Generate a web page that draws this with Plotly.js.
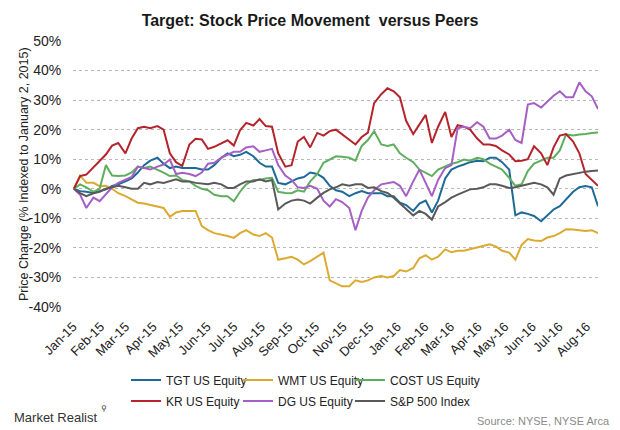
<!DOCTYPE html>
<html>
<head>
<meta charset="utf-8">
<script src="https://cdn.plot.ly/plotly-3.0.1.min.js"></script>
<style>html,body{margin:0;padding:0;background:#fff;}#chart{width:620px;height:430px;}</style>
</head>
<body>
<div id="chart"></div>
<script>
// Sample dates (roughly weekly), Jan 2, 2015 to mid-Aug 2016
const dates = [
 "2015-01-02","2015-01-09","2015-01-16","2015-01-24","2015-01-31","2015-02-07","2015-02-14","2015-02-21","2015-03-01","2015-03-08",
 "2015-03-15","2015-03-22","2015-03-29","2015-04-06","2015-04-13","2015-04-20","2015-04-27","2015-05-04","2015-05-12","2015-05-19",
 "2015-05-26","2015-06-02","2015-06-09","2015-06-17","2015-06-24","2015-07-01","2015-07-08","2015-07-15","2015-07-23","2015-07-30",
 "2015-08-06","2015-08-13","2015-08-20","2015-08-28","2015-09-04","2015-09-11","2015-09-18","2015-09-25","2015-10-03","2015-10-10",
 "2015-10-17","2015-10-24","2015-10-31","2015-11-08","2015-11-15","2015-11-22","2015-11-29","2015-12-06","2015-12-14","2015-12-21",
 "2015-12-28","2016-01-04","2016-01-11","2016-01-19","2016-01-26","2016-02-02","2016-02-09","2016-02-16","2016-02-24","2016-03-02",
 "2016-03-09","2016-03-16","2016-03-23","2016-03-31","2016-04-07","2016-04-14","2016-04-21","2016-04-28","2016-05-06","2016-05-13",
 "2016-05-20","2016-05-27","2016-06-03","2016-06-11","2016-06-18","2016-06-25","2016-07-02","2016-07-09","2016-07-17","2016-07-24",
 "2016-07-31","2016-08-07","2016-08-14"
];

const seriesNames = ["TGT US Equity","WMT US Equity","COST US Equity","KR US Equity","DG US Equity","S&P 500 Index"];

const tgt = [0,-0.8,-1,-1.4,-0.8,-0.2,1,1.5,2.5,3.5, 5.5,8,9.5,10.5,8.5,7,7.5,7,7,7,
 6.5,6.5,8,10.5,12,11,11.5,12.5,11,8.8, 7.5,7.5,2,1.5,2.5,3.5,4,5.5,5,3.7,
 1,-0.5,-1,-2.5,-1.5,-0.8,-1.5,-1.4,-1.5,-2.5, -2.5,-4.7,-5.5,-7.5,-5,-4,-8,-4,3.5,6.5,
 7.5,8.2,9,9.5,9.3,10.5,10.5,9,6.5,-9, -8,-8.5,-9.2,-11,-9,-7,-5.9,-3.5,-1,0.5,
 0.9,0.5,-5.9];

const wmt = [0,4.5,2,2,0.9,1,0,-1.5,-2.5,-3.5, -4.7,-5,-5.5,-6,-6.5,-9.5,-8,-7.5,-7.5,-7.5,
 -12.6,-14,-15,-15.4,-16,-16.6,-15,-14,-15.5,-16, -15,-16.5,-24,-23.5,-23,-24,-25.6,-24.5,-23,-21.6,
 -31,-32,-33,-33,-31,-31.5,-31,-30,-29.5,-30, -29.5,-27.5,-28,-26.8,-23.5,-22.5,-24,-23,-20.5,-21.5,
 -21,-21,-20.5,-19.9,-19.5,-18.8,-19.5,-21,-21.6,-24, -19,-17,-17.5,-17.7,-16.5,-16,-15,-13.7,-13.8,-14,
 -14.3,-14,-15];

const cost = [0,1.5,0.5,-1,0,8,4.5,4.3,4.5,5.5, 7.5,7,7.5,6.5,5.5,4.3,4.5,3,2.5,1,
 0,-0.5,-2,-2.5,-2.5,-4.2,-1,1.5,3,3, 3.5,3.7,-1,-1.4,-1.5,-0.5,-1,2.5,5,8.8,
 10,11,10.8,10.5,9.5,14.5,16.5,19.5,15,14.5, 15,12,10.5,9,6.5,5.5,4.3,6.5,7.5,8.5,
 9,9.9,9.5,10.5,10,8.5,7.5,6.5,3.7,1, 1.5,6,8.5,9.5,10.5,10.5,13,18.4,18,18.4,
 18.5,18.9,19];

const kr = [0,4.3,4.8,7.4,9.3,11.6,14.6,15.5,12,17, 20.5,21,20.5,21.2,20,12,9,7.7,15,16.9,
 16.7,13.5,14.2,15.5,16.4,14.6,19.8,22.3,21.4,23.6, 21.2,21,12,7.5,8,16,17.5,14,18.9,18,
 19.5,20,18.5,16.5,15,17.5,19,29,32,34, 33,31,23,18.5,22,25,15.5,21,26,17.5,
 21.5,21,20,17,15,15,14.5,13,11.6,9.3, 9.5,10,14.4,12,8,14,18,18.5,16,12,
 5,3,1];

const dg = [0,-2,-6.5,-3,-4.2,-2,0.5,2,3,4, 7.5,7,6.5,7.5,8.2,9.9,5,5.4,5,4.3,
 5.5,8.5,8.8,10.5,11.6,12.5,12.5,14,14.4,12.5, 13,13.5,8,4.5,3,0.5,0.3,1,0,-4,
 -6,-3.5,-4.5,-6.5,-14,-7.5,-3,-0.5,1.5,2, 2.3,1,-2.5,2.5,6.5,2,-2.5,3,7,8,
 20.5,21,20.5,22.5,21,17,17,18,20,16.5, 15.5,28.5,29,27.5,29.6,31.5,33,31,31,36,
 33,31.3,27];

const spx = [0,-1.5,-2.5,-1.5,-1,0,0.5,1,0.5,0, 0,2,1.5,2.3,2,2.5,3.2,2.5,2.5,2,
 1.8,1.5,2,1.5,0.3,0.3,1.5,2.5,2.5,3.2, 2.5,3,-7,-5,-4,-3.6,-4,-5,-3,-1.4,
 -0.2,0.5,1.5,1,1.5,1.5,0.3,0.5,-0.8,-1.4, -3,-5,-7,-9,-7.5,-8.5,-10.4,-6,-4.5,-3,
 -2,-1,-0.2,0,0.5,1.5,1.5,1,0.3,0.5, 1,1.5,2,1.5,0.5,-2,3.5,4.5,5,5.2,
 5.8,6,6.2];

const seriesValues = [tgt, wmt, cost, kr, dg, spx];
const seriesColors = ["#1d6a99","#dcaa30","#5fae5f","#b5242b","#a55fc5","#595959"];

const yTicks = [-40,-30,-20,-10,0,10,20,30,40,50];

const FONT = "Liberation Sans, Arial, sans-serif";

// one legend box per entry: 3 columns x 2 rows, as in the reference
const legendIds = ["legend","legend2","legend3","legend4","legend5","legend6"];
const legendCols = [0.101, 0.3143, 0.5276];
const legendRows = [-0.274, -0.353];

const traces = seriesNames.map((name, i) => ({
  type: "scatter",
  mode: "lines",
  name: name,
  x: dates,
  y: seriesValues[i],
  line: {color: seriesColors[i], width: 2},
  legend: legendIds[i],
  hoverinfo: "skip"
}));

const layout = {
  width: 620,
  height: 430,
  paper_bgcolor: "#ffffff",
  plot_bgcolor: "#ffffff",
  margin: {l: 73, r: 22, t: 41, b: 123, autoexpand: false},
  font: {family: FONT, color: "#222222"},
  title: {
    text: "<b>Target: Stock Price Movement  versus Peers</b>",
    font: {family: FONT, size: 16, color: "#1a1a1a"},
    x: 0.5, xref: "container", xanchor: "center",
    y: 0.953, yref: "container", yanchor: "middle"
  },
  xaxis: {
    type: "date",
    range: ["2015-01-01", "2016-08-14"],
    tick0: "2015-01-01",
    dtick: "M1",
    tickformat: "%b-%y",
    tickangle: -45,
    showgrid: false,
    zeroline: false,
    showline: false,
    ticks: "outside",
    ticklen: 6,
    tickcolor: "rgba(0,0,0,0)",
    tickfont: {family: FONT, size: 13, color: "#222222"},
    automargin: false,
    fixedrange: true
  },
  yaxis: {
    range: [-40, 50],
    tickvals: yTicks,
    ticktext: yTicks.map(v => v + "%"),
    showgrid: true,
    gridcolor: "#b8b8b8",
    griddash: "dot",
    gridwidth: 1,
    zeroline: false,
    showline: false,
    ticks: "outside",
    ticklen: 8,
    tickcolor: "rgba(0,0,0,0)",
    tickfont: {family: FONT, size: 14, color: "#222222"},
    automargin: false,
    fixedrange: true
  },
  showlegend: true,
  hovermode: false,
  annotations: [
    {
      text: "Price Change (% Indexed to January 2, 2015)",
      textangle: -90,
      xref: "paper", yref: "paper",
      x: (24 - 73) / 525, xanchor: "center",
      y: 0.5, yanchor: "middle",
      showarrow: false,
      font: {family: FONT, size: 12.5, color: "#222222"}
    },
    {
      text: "Market Realist",
      xref: "paper", yref: "paper",
      x: -0.116, xanchor: "left",
      y: -0.417, yanchor: "middle",
      showarrow: false,
      font: {family: FONT, size: 13, color: "#333333"}
    },
    {
      text: "⚲",
      xref: "paper", yref: "paper",
      x: (99 - 73) / 525, xanchor: "left",
      y: -0.38, yanchor: "middle",
      showarrow: false,
      font: {family: "DejaVu Sans", size: 8, color: "#333333"}
    },
    {
      text: "Source: NYSE, NYSE Arca",
      xref: "paper", yref: "paper",
      x: 1.0267, xanchor: "right",
      y: -0.429, yanchor: "middle",
      showarrow: false,
      font: {family: FONT, size: 11, color: "#8a8a8a"}
    }
  ]
};

legendIds.forEach((id, i) => {
  layout[id] = {
    orientation: "v",
    x: legendCols[i % 3], xanchor: "left",
    y: legendRows[Math.floor(i / 3)], yanchor: "middle",
    font: {family: FONT, size: 12, color: "#222222"},
    bgcolor: "rgba(0,0,0,0)",
    borderwidth: 0
  };
});

Plotly.newPlot("chart", traces, layout, {displayModeBar: false, staticPlot: true});
</script>
</body>
</html>
